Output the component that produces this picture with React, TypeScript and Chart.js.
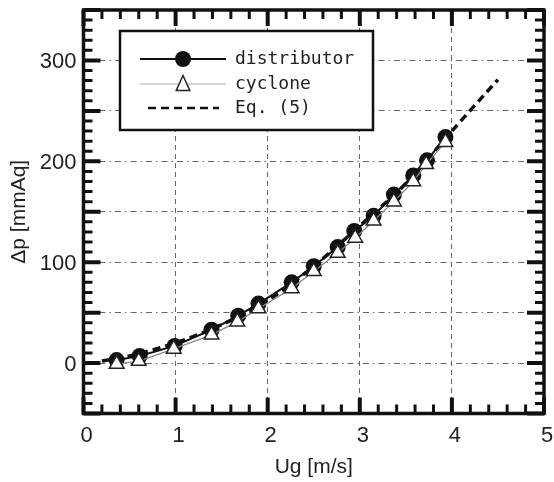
import React, { useEffect, useRef } from 'react';
import { Chart, registerables } from 'chart.js';

Chart.register(...registerables);

// ---- data ----
const distributorX = [0.36, 0.61, 0.99, 1.39, 1.68, 1.9, 2.26, 2.5, 2.76, 2.94, 3.15, 3.37, 3.58, 3.73, 3.93];
const distributorY = [3, 7, 17, 33, 47, 59, 80, 96, 115, 131, 146, 167, 186, 201, 224];
const cycloneX = [0.36, 0.6, 0.98, 1.39, 1.67, 1.9, 2.26, 2.5, 2.76, 2.95, 3.15, 3.37, 3.58, 3.72, 3.93];
const cycloneY = [-1, 2, 14, 28, 41, 54, 74, 91, 109, 124, 141, 160, 180, 197, 219];
const eqX = [0.2, 0.5, 1.0, 1.5, 2.0, 2.5, 3.0, 3.5, 4.0, 4.5];
const eqY = [2, 7, 20, 38, 62, 96, 136, 178, 230, 281];

const seriesLabels = ['distributor', 'cyclone', 'Eq. (5)'];
const xTitle = 'Ug [m/s]';
const yTitle = 'Δp [mmAq]';
const X_MIN = 0;
const X_MAX = 5;
const Y_MIN = -50;
const Y_MAX = 350;
const yLabelValues = [0, 100, 200, 300];

const toPoints = (xs: number[], ys: number[]) => xs.map((x, i) => ({ x, y: ys[i] }));

const zeroPad = (s: any) => {
  s.paddingTop = 0;
  s.paddingBottom = 0;
  s.paddingLeft = 0;
  s.paddingRight = 0;
};

const frameTicksPlugin = {
  id: 'frameTicks',
  afterDatasetsDraw(chart: any) {
    const { ctx, chartArea: a, scales } = chart;
    const xs = scales.x;
    const ys = scales.y;
    ctx.save();
    ctx.strokeStyle = '#111';
    for (let i = 0; i <= (Y_MAX - Y_MIN) / 10; i++) {
      const v = Y_MIN + i * 10;
      const py = ys.getPixelForValue(v);
      const major = v % 50 === 0;
      const len = major ? 17 : 9;
      ctx.lineWidth = major ? 4 : 3;
      ctx.beginPath();
      ctx.moveTo(a.left, py);
      ctx.lineTo(a.left + len, py);
      ctx.moveTo(a.right, py);
      ctx.lineTo(a.right - len, py);
      ctx.stroke();
    }
    for (let i = 0; i <= 25; i++) {
      const v = X_MIN + i * 0.2;
      const px = xs.getPixelForValue(v);
      const major = i % 5 === 0;
      const len = major ? 16 : 9;
      ctx.lineWidth = major ? 4 : 3;
      ctx.beginPath();
      ctx.moveTo(px, a.bottom);
      ctx.lineTo(px, a.bottom - len);
      ctx.moveTo(px, a.top);
      ctx.lineTo(px, a.top + len);
      ctx.stroke();
    }
    ctx.lineWidth = 3.5;
    ctx.strokeRect(a.left, a.top, a.right - a.left, a.bottom - a.top);
    ctx.restore();
  },
  afterDraw(chart: any) {
    const { ctx } = chart;
    const ds = chart.data.datasets;
    ctx.save();
    const bx = 120, by = 31, bw = 253, bh = 99;
    ctx.fillStyle = '#fff';
    ctx.fillRect(bx, by, bw, bh);
    ctx.lineWidth = 2.5;
    ctx.strokeStyle = '#111';
    ctx.strokeRect(bx, by, bw, bh);
    const rows = [59, 84, 108];
    const lx0 = 140, lx1 = 226, mx = 183, tx = 235;
    // distributor
    ctx.setLineDash([]);
    ctx.strokeStyle = ds[1].borderColor;
    ctx.lineWidth = ds[1].borderWidth;
    ctx.beginPath();
    ctx.moveTo(lx0, rows[0]);
    ctx.lineTo(lx1, rows[0]);
    ctx.stroke();
    ctx.fillStyle = ds[1].pointBackgroundColor;
    ctx.beginPath();
    ctx.arc(mx, rows[0], 8, 0, Math.PI * 2);
    ctx.fill();
    // cyclone
    ctx.strokeStyle = '#aaa';
    ctx.lineWidth = 1;
    ctx.beginPath();
    ctx.moveTo(lx0, rows[1]);
    ctx.lineTo(lx1, rows[1]);
    ctx.stroke();
    ctx.fillStyle = '#fff';
    ctx.strokeStyle = '#222';
    ctx.lineWidth = 1.5;
    ctx.beginPath();
    const r = 8.5;
    ctx.moveTo(mx, rows[1] - r);
    ctx.lineTo(mx + r * 0.8, rows[1] + r * 0.75);
    ctx.lineTo(mx - r * 0.8, rows[1] + r * 0.75);
    ctx.closePath();
    ctx.fill();
    ctx.stroke();
    // eq
    ctx.strokeStyle = ds[2].borderColor;
    ctx.lineWidth = 2.5;
    ctx.setLineDash([8, 5]);
    ctx.beginPath();
    ctx.moveTo(148, rows[2]);
    ctx.lineTo(219, rows[2]);
    ctx.stroke();
    ctx.setLineDash([]);
    ctx.fillStyle = '#222';
    ctx.font = '18px "DejaVu Sans Mono", "Liberation Mono", monospace';
    ctx.textAlign = 'left';
    ctx.textBaseline = 'middle';
    const order = [1, 0, 2];
    order.forEach((di, k) => {
      ctx.fillText(ds[di].label, tx, rows[k]);
    });
    ctx.restore();
  },
};

export default function App() {
  const ref = useRef<HTMLCanvasElement | null>(null);
  useEffect(() => {
    if (!ref.current) return;
    const chart = new Chart(ref.current, {
      type: 'scatter',
      data: {
        datasets: [
          {
            label: seriesLabels[1],
            data: toPoints(cycloneX, cycloneY),
            showLine: true,
            borderColor: '#888',
            borderWidth: 1.3,
            pointStyle: 'triangle',
            pointRadius: 8.5,
            pointBackgroundColor: '#fff',
            pointBorderColor: '#222',
            pointBorderWidth: 1.5,
            order: 0,
          },
          {
            label: seriesLabels[0],
            data: toPoints(distributorX, distributorY),
            showLine: true,
            borderColor: '#111',
            borderWidth: 2,
            pointStyle: 'circle',
            pointRadius: 8,
            pointBackgroundColor: '#111',
            pointBorderColor: '#111',
            pointBorderWidth: 0,
            order: 1,
          },
          {
            label: seriesLabels[2],
            data: toPoints(eqX, eqY),
            showLine: true,
            borderColor: '#111',
            borderWidth: 3.5,
            borderDash: [8, 5],
            pointRadius: 0,
            tension: 0.3,
            order: 2,
          },
        ],
      },
      options: {
        responsive: false,
        animation: false,
        devicePixelRatio: 1,
        layout: { padding: { top: 7.5, right: 8, left: 0, bottom: 0 } },
        plugins: { legend: { display: false }, tooltip: { enabled: false } },
        scales: {
          x: {
            type: 'linear',
            min: X_MIN,
            max: X_MAX,
            afterFit: (s: any) => {
              s.height = 68.5;
              zeroPad(s);
            },
            ticks: {
              stepSize: 1,
              padding: 9,
              labelOffset: 3,
              color: '#222',
              font: { family: '"Liberation Sans", Arial, sans-serif', size: 22 },
            },
            grid: { color: '#666', lineWidth: 1, drawTicks: false },
            border: { display: false, dash: [5, 4] },
            title: {
              display: true,
              text: xTitle,
              color: '#222',
              font: { family: '"Liberation Sans", Arial, sans-serif', size: 21 },
              padding: { top: 0, bottom: 2 },
            },
          },
          y: {
            type: 'linear',
            min: Y_MIN,
            max: Y_MAX,
            afterFit: (s: any) => {
              s.width = 83.5;
              zeroPad(s);
            },
            ticks: {
              stepSize: 50,
              padding: 7,
              labelOffset: 1.5,
              color: '#222',
              font: { family: '"Liberation Sans", Arial, sans-serif', size: 22 },
              callback: (v: any) => (yLabelValues.includes(Number(v)) ? String(v) : ''),
            },
            grid: { color: '#666', lineWidth: 1, drawTicks: false },
            border: { display: false, dash: [6, 4, 1.5, 4] },
            title: {
              display: true,
              text: yTitle,
              color: '#222',
              font: { family: '"Liberation Sans", Arial, sans-serif', size: 21 },
              padding: { top: 7, bottom: 0 },
            },
          },
        },
      },
      plugins: [frameTicksPlugin],
    });
    return () => chart.destroy();
  }, []);
  return (
    <div style={{ position: 'fixed', left: 0, top: 0, width: 554, height: 482, background: '#fff' }}>
      <canvas ref={ref} width={554} height={482} />
    </div>
  );
}
